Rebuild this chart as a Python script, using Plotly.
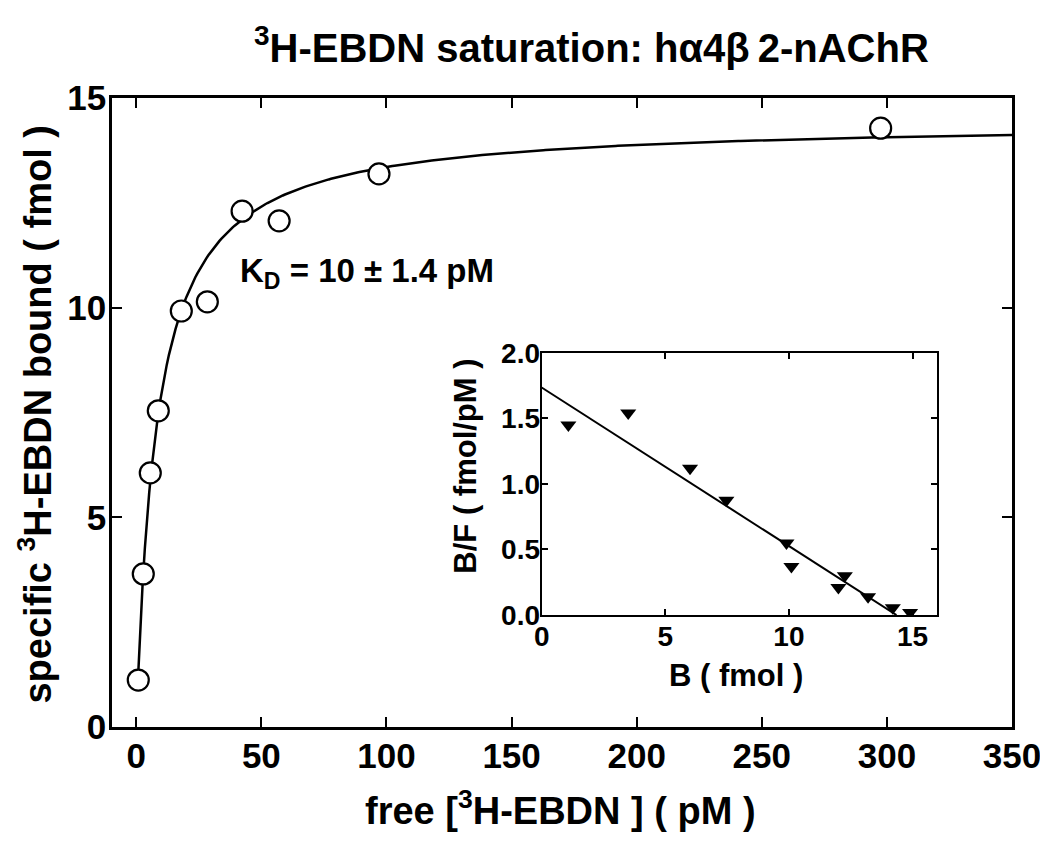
import numpy as np
import plotly.graph_objects as go

# ---- data ----
free_pM = [0.8, 2.8, 5.6, 8.8, 18.0, 28.4, 42.3, 57.1, 97.0, 297.5]
bound_fmol = [1.12, 3.65, 6.06, 7.54, 9.92, 10.14, 12.3, 12.07, 13.19, 14.28]

scat_B = [1.08, 3.5, 6.0, 7.47, 9.9, 10.1, 12.0, 12.26, 13.2, 14.2, 14.9]
scat_BF = [1.45, 1.54, 1.12, 0.876, 0.55, 0.37, 0.21, 0.30, 0.14, 0.055, 0.02]

# fit parameters
FIT_BMAX = 14.45
FIT_KD = 8.2
SCAT_INTERCEPT = 1.735
SCAT_XINT = 14.35

x_ticks = [0, 50, 100, 150, 200, 250, 300, 350]
y_ticks = [0, 5, 10, 15]
ix_ticks = [0, 5, 10, 15]
iy_ticks = [0.0, 0.5, 1.0, 1.5, 2.0]

FONT = "Liberation Sans, Arial, sans-serif"

xc = np.linspace(free_pM[0], 350, 400)
yc = FIT_BMAX * xc / (FIT_KD + xc)

sx = np.array([0.0, SCAT_XINT])
sy = SCAT_INTERCEPT * (1 - sx / SCAT_XINT)

fig = go.Figure()
fig.add_trace(go.Scatter(x=xc, y=yc, mode="lines", line=dict(color="black", width=2.5),
                         xaxis="x", yaxis="y", hoverinfo="skip"))
fig.add_trace(go.Scatter(x=free_pM, y=bound_fmol, mode="markers",
                         marker=dict(symbol="circle", size=21, color="white",
                                     line=dict(color="black", width=2.2)),
                         xaxis="x", yaxis="y"))
fig.add_trace(go.Scatter(x=sx, y=sy, mode="lines", line=dict(color="black", width=2),
                         xaxis="x2", yaxis="y2", hoverinfo="skip"))
fig.add_trace(go.Scatter(x=scat_B, y=scat_BF, mode="markers",
                         marker=dict(symbol="triangle-down", size=14, color="black"),
                         xaxis="x2", yaxis="y2"))

axis_common = dict(showline=True, linecolor="black", mirror="ticks", ticks="inside",
                   tickcolor="black", showgrid=False, zeroline=False, automargin=False)

main_tick = dict(size=35, family=FONT, weight="bold", color="black")
inset_tick = dict(size=28, family=FONT, weight="bold", color="black")

fig.update_layout(
    template="none",
    width=1040, height=835,
    margin=dict(l=104, r=36, t=90, b=116, autoexpand=False),
    paper_bgcolor="white", plot_bgcolor="white",
    showlegend=False,
    font=dict(family=FONT, color="black"),
    xaxis=dict(range=[-9.7, 350], tickvals=x_ticks, linewidth=2.5, ticklen=10, tickwidth=2,
               tickfont=main_tick, ticklabelstandoff=-4, **axis_common),
    yaxis=dict(range=[0, 15], tickvals=y_ticks, linewidth=2.5, ticklen=10, tickwidth=2,
               tickfont=main_tick, ticklabelstandoff=-4, **axis_common),
    xaxis2=dict(domain=[0.4774, 0.917], anchor="y2", range=[0, 16], tickvals=ix_ticks,
                linewidth=2, ticklen=6, tickwidth=1.5,
                tickfont=inset_tick, ticklabelstandoff=-5, **axis_common),
    yaxis2=dict(domain=[0.178, 0.595], anchor="x2", range=[0, 2], tickvals=iy_ticks,
                tickformat=".1f", linewidth=2, ticklen=6, tickwidth=1.5,
                tickfont=inset_tick, ticklabelstandoff=-6, **axis_common),
    annotations=[
        dict(text="<b><sup>3</sup>H-EBDN saturation: hα4β\u20092-nAChR</b>", x=0.533, y=1.084,
             xref="paper", yref="paper", showarrow=False, font=dict(size=40, family=FONT),
             xanchor="center", yanchor="middle"),
        dict(text="<b>free [<sup>3</sup>H-EBDN ] ( pM )</b>", x=0.498, y=-0.129,
             xref="paper", yref="paper", showarrow=False, font=dict(size=38, family=FONT),
             xanchor="center", yanchor="middle"),
        dict(text="<b>specific <sup>3</sup>H-EBDN bound ( fmol )</b>", x=-0.085, y=0.496,
             xref="paper", yref="paper", showarrow=False, textangle=-90,
             font=dict(size=38, family=FONT), xanchor="center", yanchor="middle"),
        dict(text="<b>K<sub>D</sub> = 10 ± 1.4 pM</b>", x=92.2, y=10.83, xref="x", yref="y",
             showarrow=False, font=dict(size=33, family=FONT), xanchor="center", yanchor="middle"),
        dict(text="<b>B ( fmol )</b>", x=0.693, y=0.082, xref="paper", yref="paper",
             showarrow=False, font=dict(size=31, family=FONT), xanchor="center", yanchor="middle"),
        dict(text="<b>B/F ( fmol/pM )</b>", x=0.393, y=0.415, xref="paper", yref="paper",
             showarrow=False, textangle=-90, font=dict(size=31, family=FONT),
             xanchor="center", yanchor="middle"),
    ],
)

fig.write_html("out.html")
